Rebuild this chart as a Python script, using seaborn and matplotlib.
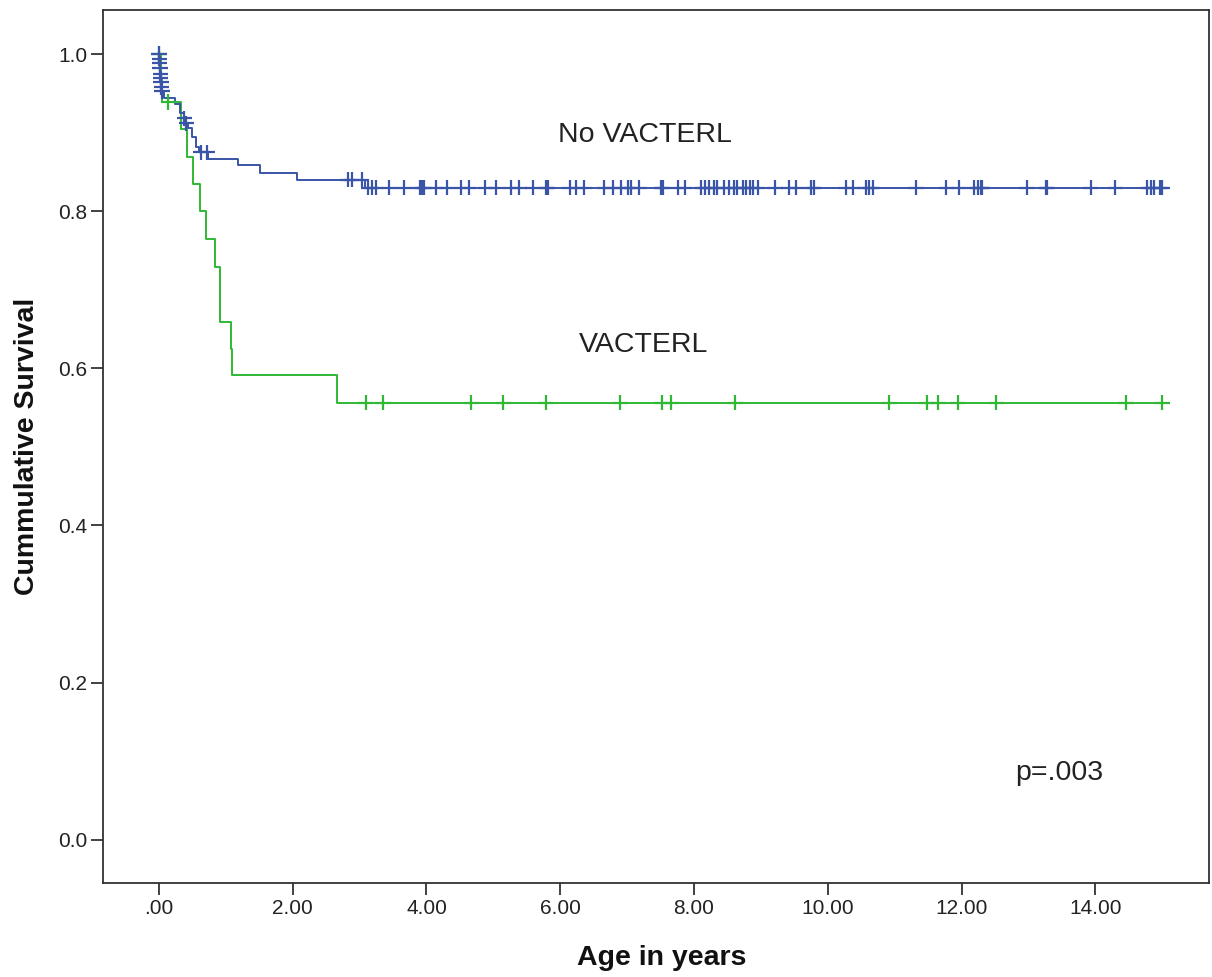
import numpy as np
import pandas as pd
import matplotlib
matplotlib.use("Agg")
import matplotlib.pyplot as plt
import seaborn as sns

# ── Data ─────────────────────────────────────────────────────────────────────
groups = ["No VACTERL", "VACTERL"]

# step times (years) and survival level after each step
no_vac_times = [0.000, 0.005, 0.010, 0.015, 0.020, 0.025, 0.030, 0.035, 0.040,
                0.08, 0.24, 0.31, 0.37, 0.39, 0.43, 0.49, 0.56, 0.60, 0.73,
                1.18, 1.51, 2.06, 3.08]
no_vac_surv = [1.000, 0.994, 0.988, 0.982, 0.975, 0.969, 0.964, 0.958, 0.953,
               0.944, 0.937, 0.925, 0.918, 0.912, 0.906, 0.894, 0.882, 0.875, 0.867,
               0.859, 0.849, 0.840, 0.830]
no_vac_censored = [0.002, 0.007, 0.012, 0.017, 0.022, 0.027, 0.032, 0.037, 0.045,
                   0.38, 0.41, 0.63, 0.72, 2.82, 2.88, 3.03,
                   3.13, 3.18, 3.24, 3.44, 3.67, 3.90, 3.94, 3.97, 4.15, 4.30,
                   4.52, 4.63, 4.88, 5.04, 5.27, 5.39, 5.59, 5.79, 5.81, 6.14,
                   6.24, 6.36, 6.66, 6.79, 6.91, 7.01, 7.06, 7.18, 7.51, 7.53,
                   7.76, 7.86, 8.11, 8.16, 8.23, 8.30, 8.35, 8.45, 8.53, 8.60,
                   8.65, 8.73, 8.78, 8.83, 8.88, 8.95, 9.21, 9.42, 9.52, 9.75,
                   9.80, 10.27, 10.37, 10.57, 10.62, 10.67, 11.32, 11.77, 11.96,
                   12.19, 12.24, 12.29, 12.31, 12.98, 13.26, 13.28, 13.93, 14.30,
                   14.78, 14.83, 14.88, 14.96, 15.00]

vac_times = [0.00, 0.03, 0.04, 0.33, 0.42, 0.51, 0.62, 0.71, 0.84, 0.91, 0.92,
             1.085, 1.095, 2.67]
vac_surv = [1.000, 0.970, 0.939, 0.905, 0.869, 0.835, 0.800, 0.765, 0.729,
            0.696, 0.659, 0.625, 0.591, 0.556]
vac_censored = [0.00, 0.14, 3.09, 3.35, 4.67, 5.15, 5.78, 6.90, 7.52, 7.66,
                8.62, 10.92, 11.48, 11.65, 11.94, 12.52, 14.46, 15.00]

x_ticks = [0, 2, 4, 6, 8, 10, 12, 14]
x_tick_labels = [".00", "2.00", "4.00", "6.00", "8.00", "10.00", "12.00", "14.00"]
y_ticks = [0.0, 0.2, 0.4, 0.6, 0.8, 1.0]
y_tick_labels = ["0.0", "0.2", "0.4", "0.6", "0.8", "1.0"]


def step_frame(name, times, surv, censored):
    # curve runs on to the last censored case; marks sit on the step level
    t = list(times) + [max(censored)]
    s = list(surv) + [surv[-1]]
    curve = pd.DataFrame({"time": t, "surv": s, "group": name})
    idx = np.searchsorted(times, censored, side="right") - 1
    marks = pd.DataFrame({"time": censored,
                          "surv": np.asarray(surv)[idx],
                          "group": name})
    return curve, marks


c1, m1 = step_frame(groups[0], no_vac_times, no_vac_surv, no_vac_censored)
c2, m2 = step_frame(groups[1], vac_times, vac_surv, vac_censored)
curves = pd.concat([c2, c1], ignore_index=True)
marks = pd.concat([m2, m1], ignore_index=True)

palette = {"No VACTERL": "#3a55a8", "VACTERL": "#2fb834"}

# ── Style ────────────────────────────────────────────────────────────────────
sns.set_style("ticks")
plt.rcParams["font.family"] = ["Liberation Sans", "DejaVu Sans"]

fig = plt.figure(figsize=(12.12, 9.77), dpi=100)
ax = fig.add_axes([103 / 1212, 94 / 977, 1106 / 1212, 873 / 977])

sns.lineplot(data=curves, x="time", y="surv", hue="group", palette=palette,
             hue_order=["VACTERL", "No VACTERL"],
             estimator=None, sort=False, drawstyle="steps-post",
             linewidth=1.4, legend=False, ax=ax)
sns.scatterplot(data=marks, x="time", y="surv", hue="group", palette=palette,
                hue_order=["VACTERL", "No VACTERL"],
                marker="+", s=120, linewidth=1.6, legend=False, ax=ax, zorder=3)

ax.set_xlim(-0.836, 15.70)
ax.set_ylim(-0.055, 1.056)
ax.set_xticks(x_ticks)
ax.set_xticklabels(x_tick_labels)
ax.set_yticks(y_ticks)
ax.set_yticklabels(y_tick_labels)

for sp in ax.spines.values():
    sp.set_visible(True)
    sp.set_color("#333333")
    sp.set_linewidth(1.3)
ax.tick_params(direction="out", length=8.5, width=1.3, color="#333333",
               labelsize=15, labelcolor="#222222", pad=3)

ax.set_xlabel("Age in years", fontsize=20.5, fontweight="bold", color="#111111")
ax.set_ylabel("Cummulative Survival", fontsize=20.5, fontweight="bold", color="#111111")
ax.xaxis.set_label_coords(0.505, -0.071)
ax.yaxis.set_label_coords(-0.057, 0.5)

ax.text(7.27, 0.897, "No VACTERL", fontsize=20.5, ha="center", va="center", color="#222222")
ax.text(7.25, 0.630, "VACTERL", fontsize=20.5, ha="center", va="center", color="#222222")
ax.text(13.46, 0.085, "p=.003", fontsize=20.5, ha="center", va="center", color="#222222")

fig.savefig("out.png", dpi=100, facecolor="white")
